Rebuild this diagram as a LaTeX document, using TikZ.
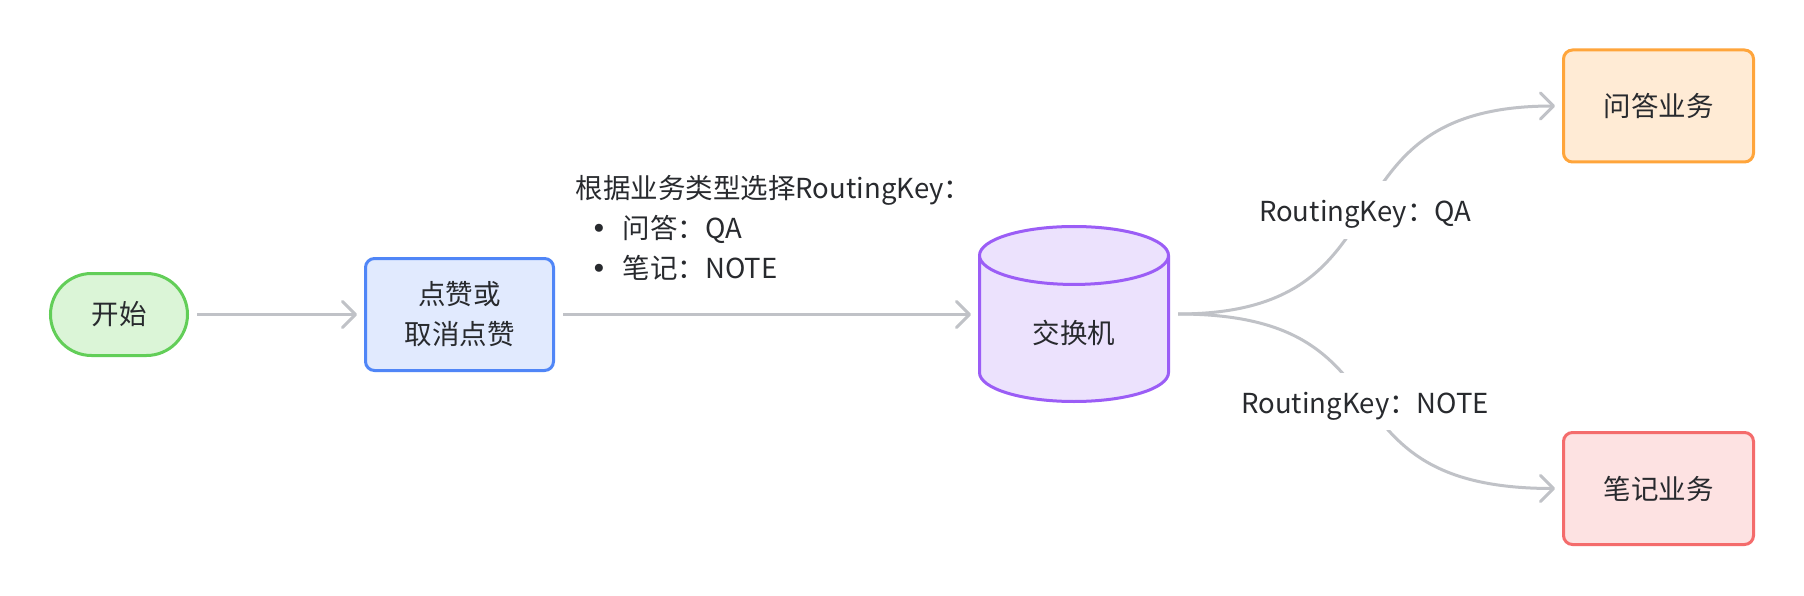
\documentclass[tikz,border=0pt]{standalone}
\usepackage{fontspec}
\setmainfont{Noto Sans CJK SC}
\newfontfamily\dotfont{DejaVu Sans}
\usetikzlibrary{arrows.meta,shapes.geometric}
\definecolor{ink}{RGB}{40,42,46}
\definecolor{edgegray}{RGB}{192,194,199}
\definecolor{startline}{RGB}{98,206,88}
\definecolor{startfill}{RGB}{219,245,215}
\definecolor{likeline}{RGB}{80,134,247}
\definecolor{likefill}{RGB}{225,234,254}
\definecolor{exline}{RGB}{155,93,246}
\definecolor{exfill}{RGB}{236,226,253}
\definecolor{qaline}{RGB}{255,165,59}
\definecolor{qafill}{RGB}{255,235,213}
\definecolor{noteline}{RGB}{244,108,108}
\definecolor{notefill}{RGB}{253,226,226}
\begin{document}
\begin{tikzpicture}[x=1pt,y=-1pt,
  font=\fontsize{27.5}{40}\selectfont,
  box/.style={draw, line width=3pt, rounded corners=9pt, minimum width=190pt, minimum height=112pt, text=ink, align=center},
  link/.style={draw=edgegray, line width=3pt, shorten >=7pt, shorten <=8pt, -{Straight Barb[length=13pt,width=26pt,round]}},
  keylabel/.style={fill=white, text=ink, text height=29pt, text depth=5pt, inner xsep=5pt, inner ysep=11.5pt}]
\fill[white] (0,0) rectangle (1804,596);
\useasboundingbox (0,0) rectangle (1804,596);
\node[box, rounded corners=41pt, minimum width=137pt, minimum height=82pt, draw=startline, fill=startfill] (start) at (119,314.5) {开始};
\node[box, minimum width=188pt, draw=likeline, fill=likefill] (like) at (459.5,314.5) {点赞或\\取消点赞};
\node[cylinder, shape border rotate=90, aspect=0.65, anchor=shape center, draw=exline, fill=exfill, line width=3pt, minimum width=189pt, minimum height=175pt, text=ink] (exch) at (1074,314) {交换机};
\node[box, draw=qaline, fill=qafill] (qa) at (1658.5,106) {问答业务};
\node[box, draw=noteline, fill=notefill] (note) at (1658.5,488.5) {笔记业务};
\draw[link] (start) -- (like);
\draw[link] (like.east) -- node[midway, xshift=7pt, yshift=87pt, text=ink, align=left] {根据业务类型选择RoutingKey：\\\hspace*{15pt}\makebox[32pt][l]{\dotfont •}问答：QA\\\hspace*{15pt}\makebox[32pt][l]{\dotfont •}笔记：NOTE} (like.east -| exch.west);
\draw[link] (exch.shape center -| exch.east) .. controls (1420,314) and (1310,106) .. node[keylabel] {RoutingKey：QA} (qa.west);
\draw[link] (exch.shape center -| exch.east) .. controls (1420,314) and (1310,488.5) .. node[keylabel] {RoutingKey：NOTE} (note.west);
\end{tikzpicture}
\end{document}
